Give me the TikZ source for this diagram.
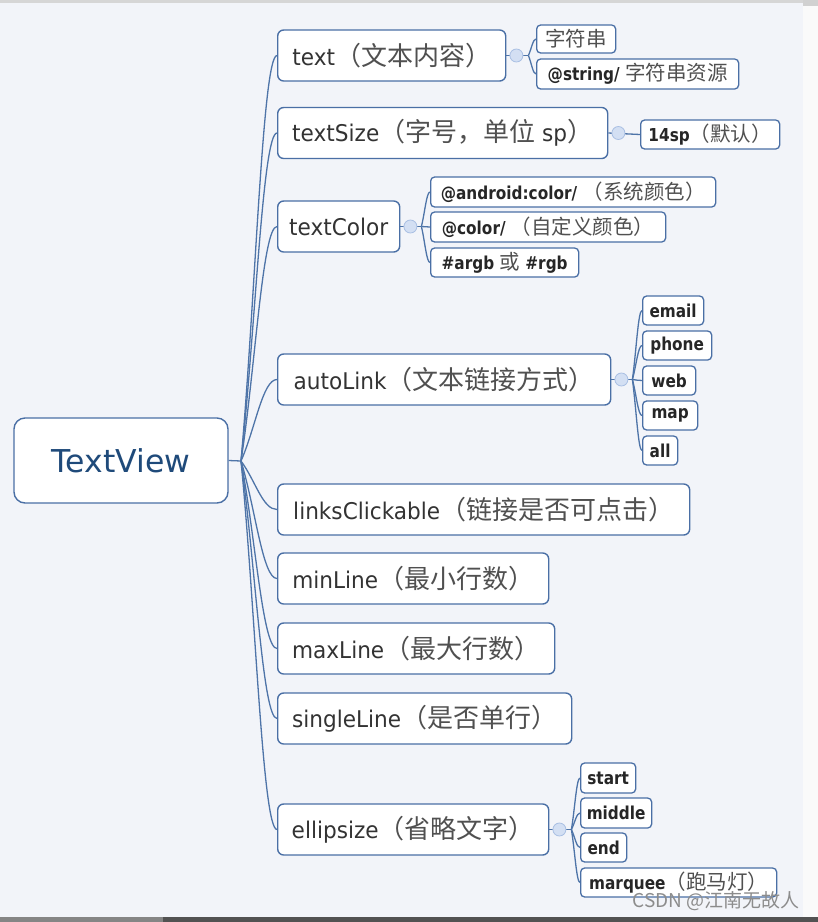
\documentclass[tikz,border=0pt]{standalone}
\usepackage{fontspec}
\setmainfont{DejaVu Sans}
\newfontfamily\lonefont[FakeStretch=0.94]{DejaVu Sans}
\newfontfamily\ltwofont[FakeStretch=0.86]{DejaVu Sans}
\newfontfamily\zhfont{Noto Sans CJK SC}
\usetikzlibrary{calc}
\definecolor{bg}{HTML}{F2F4F9}
\definecolor{bord}{HTML}{4A6FA5}
\definecolor{conncol}{HTML}{4E74A8}
\definecolor{txt}{HTML}{333333}
\definecolor{zhtxt}{HTML}{505050}
\definecolor{roottxt}{HTML}{1F4A7A}
\definecolor{dotfill}{HTML}{D3DFF3}
\definecolor{dotdraw}{HTML}{A9BFE3}
\def\zhsz{20}
\newcommand\zh[1]{{\fontsize{\zhsz}{\zhsz}\selectfont\zhfont\mdseries\color{zhtxt}#1}}
\newcommand\curvelink[2]{\draw[conn] (#1) .. controls ($(#1)!0.4!(#2)$) and ($(#1|-#2)!0.6!(#2)$) .. (#2);}
\begin{document}
\begin{tikzpicture}[x=1pt,y=-1pt,
  rootbox/.style={draw=bord, line width=1.4pt, rounded corners=11pt, fill=white, text=roottxt,
    minimum width=214pt, minimum height=85pt, inner sep=0pt, font=\fontsize{31.5}{36}\selectfont},
  lone/.style={draw=bord, line width=1.4pt, rounded corners=6pt, fill=white, text=txt,
    minimum height=51pt, inner sep=0pt, anchor=west, font=\fontsize{23}{27}\selectfont\lonefont\def\zhsz{26}},
  ltwo/.style={draw=bord, line width=1.3pt, rounded corners=4pt, fill=white, text=black!85,
    minimum height=29pt, inner sep=0pt, anchor=west, font=\fontsize{17.8}{21}\selectfont\ltwofont\bfseries\def\zhsz{20.5}},
  dot/.style={circle, fill=dotfill, draw=dotdraw, line width=0.8pt, minimum size=13pt, inner sep=0pt},
  conn/.style={draw=conncol, line width=1.3pt}]
% background and window frame
\fill[bg] (0,0) rectangle (818,922);
\fill[black!16] (0,0) rectangle (803,3);
\fill[black!2] (803,0) rectangle (818,917);
\fill[black!18] (803,0) rectangle (818,6);
\fill[black!48] (0,917) rectangle (163,922);
\fill[black!68] (163,917) rectangle (818,922);
\useasboundingbox (0,0) rectangle (818,922);

% root
\node[rootbox] (root) at (121,460.5) {TextView};
\coordinate (rf) at (241,461);

% level 1
\node[lone, minimum width=228pt] (t1) at (277,55.5) {text\zh{（文本内容）}};
\node[lone, minimum width=330pt] (t2) at (277,133) {textSize\zh{（字号，单位} sp\zh{）}};
\node[lone, minimum width=122pt] (t3) at (277,226.5) {textColor};
\node[lone, minimum width=333pt] (t4) at (277,379.5) {autoLink\zh{（文本链接方式）}};
\node[lone, minimum width=412pt] (t5) at (277,509.5) {linksClickable\zh{（链接是否可点击）}};
\node[lone, minimum width=271pt] (t6) at (277,578.5) {minLine\zh{（最小行数）}};
\node[lone, minimum width=277pt] (t7) at (277,648.5) {maxLine\zh{（最大行数）}};
\node[lone, minimum width=294pt] (t8) at (277,718.5) {singleLine\zh{（是否单行）}};
\node[lone, minimum width=271pt] (t9) at (277,829.5) {ellipsize\zh{（省略文字）}};

% level 2
\node[ltwo, minimum width=79pt, minimum height=28pt] (a1) at (536,39) {\zh{字符串}};
\node[ltwo, minimum width=202pt, minimum height=30pt] (a2) at (536,74) {@string/ \zh{字符串资源}};
\node[ltwo, minimum width=139pt] (b1) at (640,134.5) {14sp\zh{（默认）}};
\node[ltwo, minimum width=285pt, minimum height=30pt] (c1) at (430,192) {@android:color/ \zh{（系统颜色）}};
\node[ltwo, minimum width=235pt, minimum height=30pt] (c2) at (430,227) {@color/ \zh{（自定义颜色）}};
\node[ltwo, minimum width=148pt] (c3) at (430,262.5) {\#argb \zh{或} \#rgb};
\node[ltwo, minimum width=61pt] (d1) at (642,310.5) {email};
\node[ltwo, minimum width=69pt] (d2) at (642,345.5) {phone};
\node[ltwo, minimum width=53pt] (d3) at (642,380.5) {web};
\node[ltwo, minimum width=55pt] (d4) at (642,415.5) {map};
\node[ltwo, minimum width=35pt] (d5) at (642,450.5) {all};
\node[ltwo, minimum width=55pt, minimum height=30pt] (e1) at (580,778) {start};
\node[ltwo, minimum width=71pt, minimum height=30pt] (e2) at (580,813) {middle};
\node[ltwo, minimum width=46pt] (e3) at (580,847.5) {end};
\node[ltwo, minimum width=196pt] (e4) at (580,882.5) {marquee\zh{（跑马灯）}};

% root connectors
\draw[conn] (root.east) -- (rf);
\foreach \n in {t1,t2,t3,t4,t5,t6,t7,t8,t9}{\curvelink{rf}{\n.west}}

% collapse dots and branches
\coordinate (k1) at ([xshift=10pt]t1.east);
\coordinate (k2) at ([xshift=10pt]t2.east);
\coordinate (k3) at ([xshift=10pt]t3.east);
\coordinate (k4) at ([xshift=10pt]t4.east);
\coordinate (k9) at ([xshift=10pt]t9.east);
\coordinate (f1) at ([xshift=12pt]k1);
\coordinate (f3) at ([xshift=11pt]k3);
\coordinate (f4) at ([xshift=11pt]k4);
\coordinate (f9) at ([xshift=12pt]k9);
\draw[conn] (t1.east) -- (f1);
\draw[conn] (t2.east) -- (b1.west);
\draw[conn] (t3.east) -- (f3);
\draw[conn] (t4.east) -- (f4);
\draw[conn] (t9.east) -- (f9);
\foreach \n in {a1,a2}{\curvelink{f1}{\n.west}}
\foreach \n in {c1,c2,c3}{\curvelink{f3}{\n.west}}
\foreach \n in {d1,d2,d3,d4,d5}{\curvelink{f4}{\n.west}}
\foreach \n in {e1,e2,e3,e4}{\curvelink{f9}{\n.west}}
\foreach \k in {k1,k2,k3,k4,k9}{\node[dot] at (\k) {};}

% watermark
\node[text=black!45, font=\fontsize{19}{22}\selectfont\zhfont, inner sep=0pt] (wm) at (716,901) {CSDN @江南无故人};
\end{tikzpicture}
\end{document}
